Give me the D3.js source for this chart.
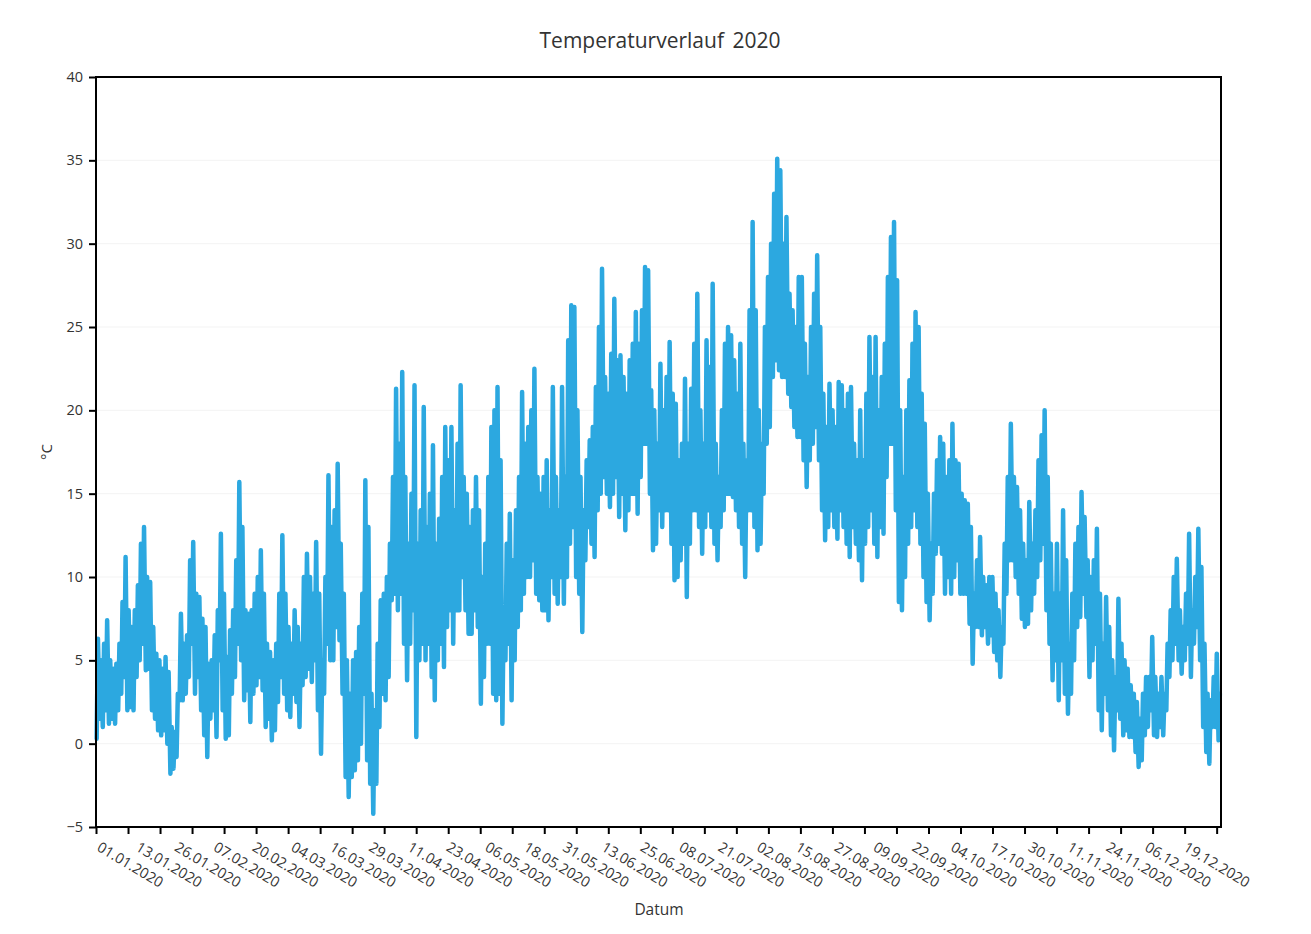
<!DOCTYPE html>
<html>
<head>
<meta charset="utf-8">
<script src="https://cdn.jsdelivr.net/npm/d3@7"></script>
<style>
  html, body { margin: 0; padding: 0; background: #ffffff; }
  svg { display: block; }
  text { font-family: "Open Sans", "Noto Sans", sans-serif; fill: #333333; }
</style>
</head>
<body>
<svg id="chart" width="1311" height="934"></svg>
<script>
// ---- Data ----
const chartTitle = "Temperaturverlauf 2020";
const xTitle = "Datum";
const yTitle = "°C";
const yTicks = [-5, 0, 5, 10, 15, 20, 25, 30, 35, 40];
const dateLabels = ["01.01.2020","13.01.2020","26.01.2020","07.02.2020","20.02.2020","04.03.2020","16.03.2020","29.03.2020","11.04.2020","23.04.2020","06.05.2020","18.05.2020","31.05.2020","13.06.2020","25.06.2020","08.07.2020","21.07.2020","02.08.2020","15.08.2020","27.08.2020","09.09.2020","22.09.2020","04.10.2020","17.10.2020","30.10.2020","11.11.2020","24.11.2020","06.12.2020","19.12.2020"];
const hoursTotal = 8784;       // hours in 2020
const labelStepHours = 303;    // label interval on the category axis
const tickStepHours = 250;     // tick mark interval

// daily maximum temperature (°C), one value per day from 01.01. to 31.12.
const dailyMax = [
  // Jan
  6.3,5.0,6.0,7.4,5.0,4.5,4.8,6.0,8.5,11.2,8.0,7.0,8.0,9.5,12.0,13.0,10.0,9.7,7.0,5.4,5.0,4.5,5.2,4.3,1.0,0.7,3.0,7.8,6.0,6.5,11.0,
  // Feb
  12.1,9.0,8.8,7.5,7.0,4.8,5.0,6.5,8.0,12.6,9.0,5.2,6.8,8.0,11.0,15.7,13.0,8.0,7.8,8.0,9.0,10.0,11.6,9.0,6.0,5.5,5.0,6.0,9.0,
  // Mar
  12.5,9.0,7.0,6.0,8.0,7.0,6.0,10.0,11.4,10.0,9.0,12.1,9.0,5.0,10.0,16.1,13.0,14.0,16.8,12.0,9.0,5.0,3.0,5.0,5.5,7.0,9.0,15.8,13.0,3.0,2.0,
  // Apr
  6.0,8.6,9.0,10.0,12.0,16.0,21.3,18.0,22.3,16.0,12.0,15.0,21.5,12.0,14.0,20.2,13.0,15.0,17.9,12.0,13.5,16.0,19.0,17.0,19.0,14.0,18.0,21.5,16.0,15.0,
  // May
  13.0,14.0,16.0,14.0,10.0,12.0,16.0,19.0,20.0,21.4,17.0,8.0,12.0,13.8,11.0,14.0,16.0,21.1,18.0,19.0,20.0,22.5,16.0,15.0,16.0,17.0,14.0,21.4,16.0,14.0,21.4,
  // Jun
  16.0,24.2,26.3,26.2,20.0,16.0,14.0,17.0,18.2,19.0,21.4,25.0,28.5,22.0,21.0,23.4,26.7,23.0,23.3,22.0,21.0,23.0,24.0,25.9,24.0,26.0,28.6,28.4,21.2,20.0,
  // Jul
  18.0,22.8,20.0,22.0,24.1,21.0,20.4,17.0,18.0,21.9,18.0,21.3,24.0,27.0,20.0,18.0,24.2,22.6,27.6,18.0,16.0,20.0,24.0,25.0,24.5,23.0,21.0,24.0,18.0,17.0,26.0,
  // Aug
  31.3,26.0,20.0,18.0,25.0,28.0,30.0,33.0,35.1,34.4,30.0,31.6,27.0,26.0,25.0,28.0,28.0,24.0,22.0,25.0,27.0,29.3,25.0,21.0,19.0,21.6,20.0,19.0,21.7,21.5,20.0,
  // Sep
  21.0,21.4,18.0,17.0,20.0,17.0,21.0,24.4,22.0,24.4,20.0,22.0,24.0,28.0,30.4,31.3,27.8,20.0,16.0,20.0,21.8,24.0,25.9,25.0,21.0,19.2,15.0,12.0,15.0,17.0,
  // Oct
  18.4,18.0,16.0,17.0,19.2,17.0,16.8,15.0,14.6,14.4,13.0,9.0,11.0,12.4,10.0,9.5,10.0,10.0,9.0,8.0,7.0,12.0,16.0,19.2,16.0,15.4,14.0,12.0,11.0,14.5,12.0,
  // Nov
  14.0,17.0,18.5,20.0,16.0,12.0,9.0,12.0,9.0,14.0,11.0,6.0,9.0,12.0,13.0,15.1,13.6,11.0,10.0,11.0,12.9,9.0,6.0,8.8,7.0,5.0,4.0,8.7,6.0,5.0,
  // Dec
  4.5,3.5,3.0,2.5,1.5,3.0,4.0,4.0,6.4,4.0,3.0,4.0,3.0,6.0,8.0,10.0,11.1,8.0,7.0,9.0,12.6,8.0,10.0,12.9,10.6,6.0,3.0,2.6,4.0,5.4,3.0
];

// daily minimum temperature (°C), one value per day from 01.01. to 31.12.
const dailyMin = [
  // Jan
  0.3,1.5,1.0,2.0,1.2,1.5,1.2,2.0,3.0,4.0,2.0,2.2,2.0,4.0,5.0,6.0,4.4,4.5,2.0,1.5,0.8,0.5,0.8,0.0,-1.8,-1.5,-0.8,2.6,2.6,3.0,4.0,
  // Feb
  6.0,3.0,4.0,2.0,0.5,-0.8,1.5,2.0,0.4,5.0,2.0,0.3,0.5,3.0,4.0,6.0,5.0,2.6,3.2,1.3,3.0,3.5,4.0,3.2,1.0,1.5,0.2,0.8,2.5,
  // Mar
  4.0,3.0,2.0,1.6,3.0,2.5,1.0,3.5,4.0,4.5,3.7,5.0,2.0,-0.6,3.0,6.0,5.0,5.0,7.0,6.2,3.0,-2.0,-3.2,-2.0,-1.6,-1.0,0.0,3.0,-1.0,-2.4,-4.2,
  // Apr
  -2.4,1.0,3.0,2.6,4.0,8.6,9.0,8.0,9.0,6.0,3.8,6.0,8.0,0.4,5.0,6.0,5.0,6.0,4.0,2.6,5.0,6.0,4.6,7.0,8.0,6.0,8.0,8.0,10.0,8.0,
  // May
  6.6,6.6,8.0,7.0,2.4,4.0,6.0,6.0,3.0,2.6,3.0,1.2,5.0,6.0,2.6,5.0,7.0,8.0,9.0,10.0,10.0,11.0,9.0,8.6,8.0,8.0,7.4,10.0,9.0,8.4,10.0,
  // Jun
  8.4,10.0,12.0,13.0,10.0,9.0,6.7,11.0,13.0,12.0,11.2,14.0,15.0,16.0,15.0,14.2,15.0,16.0,13.6,15.0,12.8,14.0,15.0,15.0,13.8,16.0,18.0,18.0,15.0,11.6,
  // Jul
  12.0,14.0,13.0,14.0,14.0,12.0,9.8,10.0,11.0,12.0,8.8,12.0,14.0,14.0,13.0,11.4,13.0,14.0,13.0,12.0,11.0,13.0,14.0,15.0,15.0,14.8,14.0,13.0,12.0,10.0,14.0,
  // Aug
  14.0,13.0,11.6,12.0,15.0,18.0,19.0,22.0,23.0,22.4,22.0,22.0,21.0,20.2,19.0,18.4,18.4,17.0,15.4,17.0,18.0,19.0,17.0,14.0,12.2,13.0,14.0,13.0,12.3,14.0,13.0,
  // Sep
  12.0,11.2,13.0,12.0,11.0,9.8,12.0,13.0,14.0,12.0,11.2,13.0,12.6,16.0,18.0,18.0,14.0,8.5,8.0,10.0,12.0,13.0,14.0,13.0,12.0,10.0,8.5,7.4,9.0,11.4,
  // Oct
  12.0,11.4,9.0,10.0,9.0,10.0,11.0,9.0,9.0,9.0,7.2,4.8,7.0,7.0,6.5,7.0,6.0,6.5,5.5,5.0,4.0,6.0,9.0,11.0,11.0,10.0,9.0,7.5,7.0,7.2,8.0,
  // Nov
  9.0,10.0,11.0,12.0,8.0,6.0,3.8,5.0,2.6,5.0,3.0,1.8,3.0,5.0,7.0,7.6,9.0,7.6,4.0,5.0,6.0,2.0,0.8,3.0,2.0,0.5,-0.4,2.0,1.5,0.5,
  // Dec
  0.8,0.4,0.4,-0.5,-1.4,-1.0,0.5,1.0,2.0,0.5,0.4,1.0,0.5,2.0,4.0,5.0,6.0,5.0,4.2,5.0,6.0,4.0,6.0,7.0,5.0,1.0,-0.5,-1.2,1.0,1.0,0.2
];

// ---- Build series: each day contributes its minimum (early morning) and maximum (afternoon) ----
const series = [];
dailyMax.forEach((mx, i) => {
  series.push({ h: i * 24 + 5, v: dailyMin[i] });
  series.push({ h: i * 24 + 15, v: mx });
});

// ---- Layout ----
const svg = d3.select("#chart");
const plot = { left: 96, right: 1221, top: 77, bottom: 827 };

const x = d3.scaleLinear().domain([0, hoursTotal]).range([plot.left, plot.right]);
const y = d3.scaleLinear().domain([-5, 40]).range([plot.bottom, plot.top]);

// faint horizontal gridlines
svg.append("g")
  .selectAll("line")
  .data(yTicks.slice(1, -1))
  .join("line")
  .attr("x1", plot.left).attr("x2", plot.right)
  .attr("y1", d => y(d)).attr("y2", d => y(d))
  .attr("stroke", "#f3f3f3").attr("stroke-width", 1);

// temperature line
svg.append("path")
  .datum(series)
  .attr("fill", "none")
  .attr("stroke", "#2ca8e0")
  .attr("stroke-width", 4.5)
  .attr("stroke-linejoin", "round")
  .attr("stroke-linecap", "round")
  .attr("d", d3.line().x(d => x(d.h)).y(d => y(d.v)));

// y axis
const yAxis = svg.append("g")
  .attr("transform", `translate(${plot.left},0)`)
  .call(d3.axisLeft(y).tickValues(yTicks).tickSize(7).tickPadding(6).tickFormat(d3.format("d")));
yAxis.select(".domain").remove();
yAxis.selectAll(".tick line").attr("stroke", "#000").attr("stroke-width", 2);
yAxis.selectAll(".tick text")
  .style("font-family", '"Open Sans", sans-serif')
  .style("font-size", "14.5px")
  .attr("fill", "#333");

// x axis ticks
const xAxis = svg.append("g")
  .attr("transform", `translate(0,${plot.bottom})`)
  .call(d3.axisBottom(x).tickValues(d3.range(0, hoursTotal, tickStepHours)).tickSize(7).tickFormat(""));
xAxis.select(".domain").remove();
xAxis.selectAll(".tick line").attr("stroke", "#000").attr("stroke-width", 2);

// x axis date labels (rotated)
svg.append("g")
  .selectAll("text")
  .data(dateLabels)
  .join("text")
  .attr("transform", (d, i) => `translate(${x(i * labelStepHours)},${plot.bottom + 23}) rotate(31)`)
  .attr("text-anchor", "start")
  .style("font-size", "14.5px")
  .text(d => d);

// plot frame
svg.append("rect")
  .attr("x", plot.left).attr("y", plot.top)
  .attr("width", plot.right - plot.left).attr("height", plot.bottom - plot.top)
  .attr("fill", "none").attr("stroke", "#000").attr("stroke-width", 2);

// titles
svg.append("text")
  .attr("x", 660).attr("y", 48)
  .attr("text-anchor", "middle")
  .style("font-size", "21px")
  .style("word-spacing", "3px")
  .text(chartTitle);

svg.append("text")
  .attr("x", 659).attr("y", 915)
  .attr("text-anchor", "middle")
  .style("font-size", "15.5px")
  .text(xTitle);

svg.append("text")
  .attr("transform", `translate(52,452) rotate(-90)`)
  .attr("text-anchor", "middle")
  .style("font-size", "15px")
  .text(yTitle);
</script>
</body>
</html>
